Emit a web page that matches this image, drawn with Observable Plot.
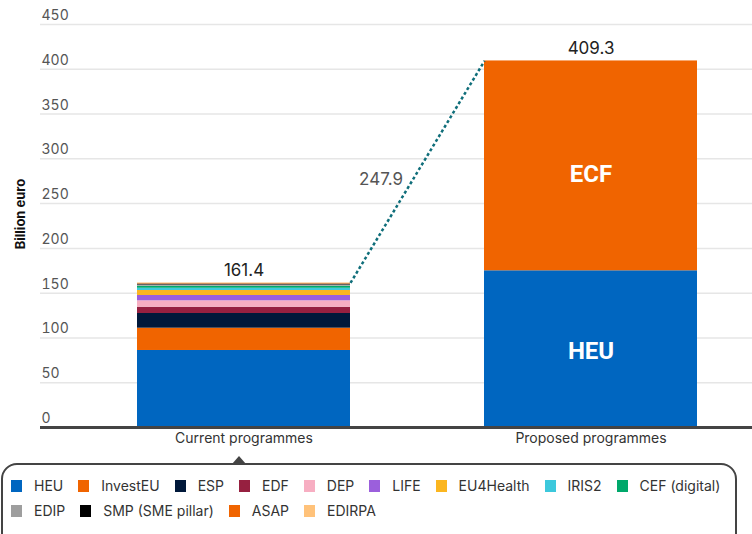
<!DOCTYPE html>
<html>
<head>
<meta charset="utf-8">
<script src="https://cdn.jsdelivr.net/npm/d3@7"></script>
<script src="https://cdn.jsdelivr.net/npm/@observablehq/plot@0.6"></script>
<style>
  html, body { margin: 0; padding: 0; background: #fff; }
  body { width: 752px; height: 534px; overflow: hidden; position: relative; font-family: Inter, "Noto Sans", sans-serif; }
  #chart { position: absolute; left: 0; top: 0; }
  #legend {
    position: absolute; left: 1px; top: 463px; width: 736px; height: 110px;
    border: 2px solid #444; border-radius: 16px; box-sizing: border-box;
    padding: 8px 0 0 8px;
  }
  .row { display: flex; flex-wrap: nowrap; }
  .item { display: flex; align-items: center; height: 25px; margin-right: 15px; font-size: 14px; color: #333; white-space: nowrap; }
  .sw { width: 11px; height: 12px; margin-right: 12px; flex: none; }
  #pointer {
    position: absolute; top: 456px; left: 232px; width: 0; height: 0;
    border-left: 7px solid transparent; border-right: 7px solid transparent; border-bottom: 8px solid #444;
  }
</style>
</head>
<body>
<div id="chart"></div>
<div id="pointer"></div>
<div id="legend"></div>
<script>
// ---- data ----
const programmes = ["Current programmes", "Proposed programmes"];
const currentSeries = ["HEU", "InvestEU", "ESP", "EDF", "DEP", "LIFE", "EU4Health", "IRIS2", "CEF (digital)", "EDIP", "SMP (SME pillar)", "ASAP", "EDIRPA"];
const currentColors = ["#0066c0", "#f06400", "#00183a", "#962040", "#f7aec2", "#9b5fdc", "#fbb620", "#3cc8dc", "#00a86b", "#9e9e9e", "#000000", "#f06400", "#ffc27a"];
const currentValues = [86.0, 24.9, 16.4, 7.0, 7.2, 5.9, 5.6, 2.5, 2.3, 1.3, 1.0, 0.5, 0.8];
const proposedSeries = ["HEU", "ECF"];
const proposedColors = ["#0066c0", "#f06400"];
const proposedValues = [175.0, 234.3];
const yTicks = [0, 50, 100, 150, 200, 250, 300, 350, 400, 450];
const yLabel = "Billion euro";
const legendFirstRowCount = 9;

// ---- tables ----
const rows = [
  ...currentSeries.map((s, i) => ({programme: programmes[0], series: s, value: currentValues[i]})),
  ...proposedSeries.map((s, i) => ({programme: programmes[1], series: s, value: proposedValues[i]}))
];
const totals = programmes.map(p => ({programme: p, total: d3.sum(rows.filter(r => r.programme === p), r => r.value)}));
const colorDomain = [...currentSeries, "ECF"];
const colorRange = [...currentColors, proposedColors[1]];
const bridge = [{from: programmes[0], to: programmes[1], y1: totals[0].total, y2: totals[1].total}];
const proposedRows = rows.filter(r => r.programme === programmes[1]);

const plot = Plot.plot({
  width: 752,
  height: 458,
  marginTop: 24,
  marginBottom: 31,
  marginLeft: 40,
  marginRight: 0,
  style: {fontFamily: "Inter, sans-serif", fontSize: "14px", color: "#333", background: "transparent"},
  x: {domain: programmes, paddingInner: 0.385, paddingOuter: 0.2155, align: 0.64, axis: null},
  y: {domain: [0, 450], axis: null},
  color: {domain: colorDomain, range: colorRange},
  marks: [
    Plot.ruleY(yTicks.filter(d => d > 0), {stroke: "#e6e6e6", strokeWidth: 1.5}),
    Plot.text(yTicks, {y: d => d, frameAnchor: "left", textAnchor: "start", dx: 1, dy: -9, fill: "#555", fontSize: 14}),
    Plot.barY(rows, {x: "programme", y: "value", fill: "series"}),
    Plot.ruleY([0], {stroke: "#444", strokeWidth: 3}),
    Plot.text(programmes, {x: d => d, frameAnchor: "bottom", dy: 15, fill: "#333", fontSize: 14}),
    Plot.text(totals, {x: "programme", y: "total", text: d => d3.format(".1f")(d.total), dy: -12, fill: "#222", fontSize: 17}),
    Plot.link(bridge, {
      x1: "from", x2: "to", y1: "y1", y2: "y2",
      stroke: "#0f6e7a", strokeWidth: 2.5, strokeDasharray: "3,2.5",
      render(index, scales, values, dimensions, context, next) {
        const bwRaw = scales.x.bandwidth;
        const bw = typeof bwRaw === "function" ? bwRaw() : bwRaw;
        return next(index, scales, {
          ...values,
          x1: Array.from(values.x1, v => v + bw / 2),
          x2: Array.from(values.x2, v => v - bw / 2)
        }, dimensions, context);
      }
    }),
    Plot.text(bridge, {x: "from", y: d => (d.y1 + d.y2) / 2, text: d => d3.format(".1f")(d.y2 - d.y1), dx: 137, dy: 8, fill: "#555", fontSize: 17}),
    Plot.text(proposedRows.filter(r => r.series === "HEU"), Plot.stackY({x: "programme", y: "value", text: "series", fill: "white", fontWeight: "bold", fontSize: 24, fontFamily: "Roboto", dy: 2})),
    Plot.text(proposedRows, Plot.stackY({x: "programme", y: "value", text: d => d.series === "ECF" ? d.series : "", fill: "white", fontWeight: "bold", fontSize: 24, fontFamily: "Roboto", dy: 8})),
    Plot.text([yLabel], {frameAnchor: "left", textAnchor: "middle", rotate: -90, dx: -20, dy: -12, fontWeight: "bold", fontSize: 13, fill: "#111"})
  ]
});
document.getElementById("chart").appendChild(plot);

// ---- legend ----
const legend = document.getElementById("legend");
const rowEls = [document.createElement("div"), document.createElement("div")];
rowEls.forEach(r => { r.className = "row"; legend.appendChild(r); });
currentSeries.forEach((s, i) => {
  const item = document.createElement("div");
  item.className = "item";
  const sw = document.createElement("span");
  sw.className = "sw";
  sw.style.background = currentColors[i];
  const t = document.createElement("span");
  t.textContent = s;
  item.appendChild(sw);
  item.appendChild(t);
  rowEls[i < legendFirstRowCount ? 0 : 1].appendChild(item);
});
</script>
</body>
</html>
